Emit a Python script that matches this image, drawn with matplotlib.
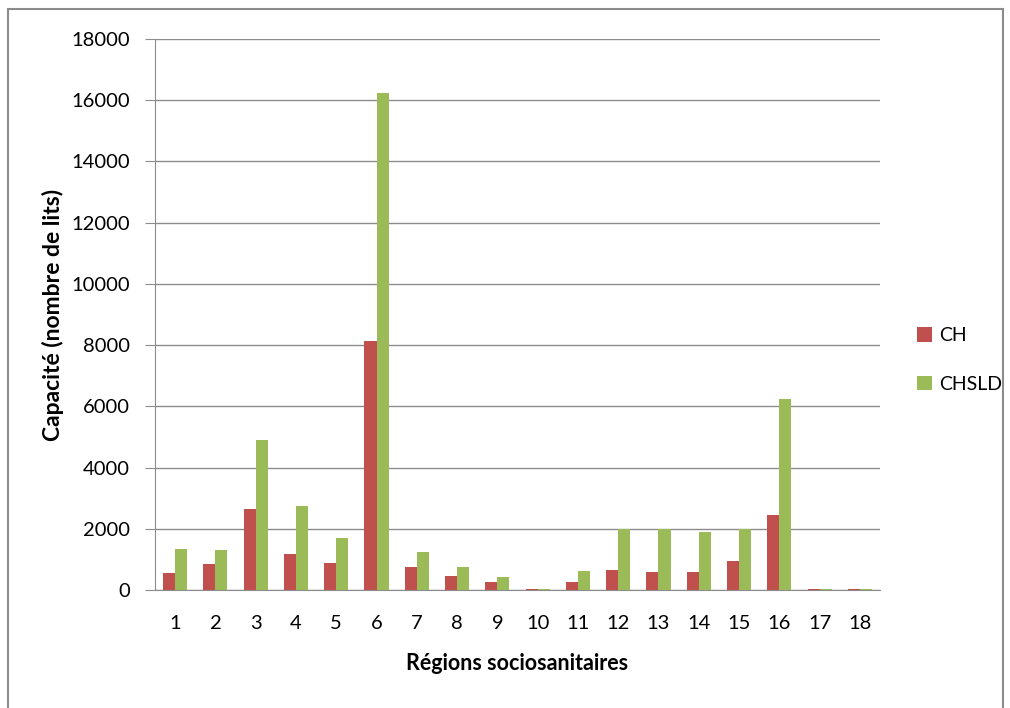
import matplotlib.pyplot as plt
import numpy as np
from matplotlib.patches import Rectangle

# Data
regions = [str(i) for i in range(1, 19)]
ch = [545, 840, 2640, 1180, 885, 8130, 755, 460, 250, 40, 250, 665, 590, 590, 960, 2435, 40, 40]
chsld = [1345, 1300, 4900, 2730, 1715, 16250, 1255, 755, 415, 40, 635, 2000, 2000, 1890, 2005, 6250, 40, 40]

plt.rcParams['font.family'] = ['Lato', 'DejaVu Sans']

fig = plt.figure(figsize=(10.1, 7.08), dpi=100)
ax = fig.add_axes([155 / 1010, 1 - 590 / 708, 725 / 1010, 551 / 708])

x = np.arange(len(regions))
w = 0.3
ax.bar(x - w / 2, ch, width=w, color='#C0504D', label='CH', zorder=3)
ax.bar(x + w / 2, chsld, width=w, color='#9BBB59', label='CHSLD', zorder=3)

ax.set_xlim(-0.5, len(regions) - 0.5)
ax.set_ylim(0, 18000)
ax.set_yticks(np.arange(0, 18001, 2000))
ax.set_xticks(x)
ax.set_xticklabels(regions)
ax.yaxis.grid(True, color='#8c8c8c', linewidth=1, zorder=0)

for s in ['top', 'right']:
    ax.spines[s].set_visible(False)
ax.spines['left'].set_color('#8c8c8c')
ax.spines['bottom'].set_color('#8c8c8c')
ax.tick_params(axis='y', length=7, color='#8c8c8c', labelsize=14.5, pad=11)
ax.tick_params(axis='x', length=0, labelsize=14.5, pad=18)

ax.set_ylabel('Capacité (nombre de lits)', fontsize=16.5, fontweight='bold', labelpad=5)
ax.set_xlabel('Régions sociosanitaires', fontsize=15.5, fontweight='bold', labelpad=15)

ax.legend(loc='center left', bbox_to_anchor=(911 / 1010, 1 - 360 / 708),
          bbox_transform=fig.transFigure, frameon=False, fontsize=14,
          handlelength=0.8, handleheight=0.8, handletextpad=0.35, labelspacing=1.6,
          borderaxespad=0, borderpad=0.3)

# outer chart frame
fig.patches.append(Rectangle((8 / 1010, -0.05), 995 / 1010, 1.05 - 9 / 708,
                             transform=fig.transFigure, fill=False,
                             edgecolor='#8c8c8c', linewidth=1.5))

fig.savefig('out.png', dpi=100)
